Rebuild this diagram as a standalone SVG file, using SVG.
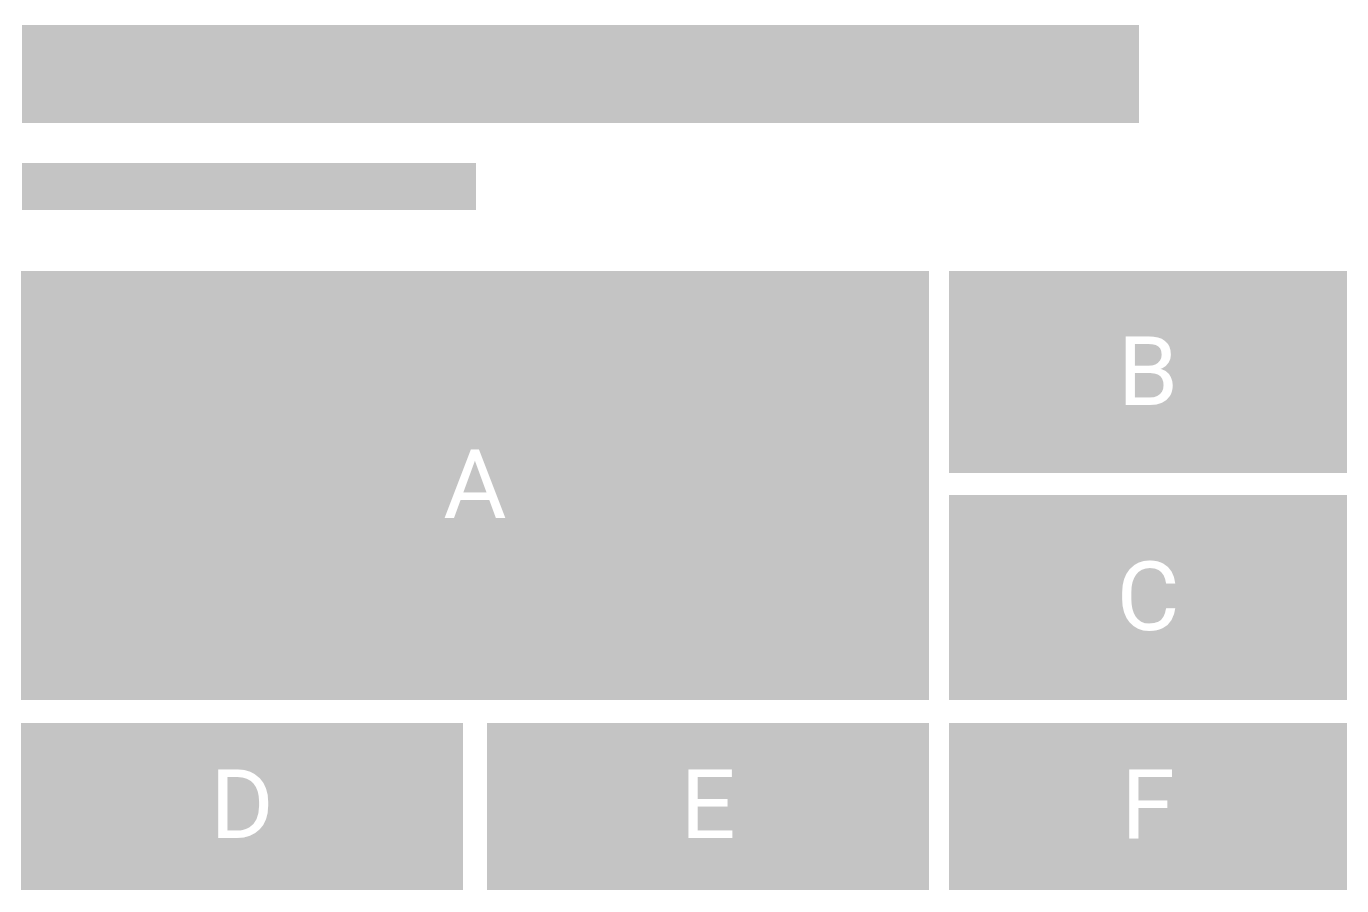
<svg xmlns="http://www.w3.org/2000/svg" width="1368" height="912" viewBox="0 0 1368 912">
<style>
.box{fill:#c4c4c4}
.lbl{fill:#ffffff;font-family:Roboto,"Liberation Sans",sans-serif;font-size:97px;font-weight:400;text-anchor:middle}
</style>
<rect width="1368" height="912" fill="#ffffff"/>
<g id="title"><rect class="box" x="22" y="25" width="1117" height="98"/></g>
<g id="subtitle"><rect class="box" x="22" y="163" width="454" height="47"/></g>
<g id="node-A"><rect class="box" x="21" y="271" width="908" height="429"/><text class="lbl" x="475" y="518">A</text></g>
<g id="node-B"><rect class="box" x="949" y="271" width="398" height="202"/><text class="lbl" x="1148" y="405">B</text></g>
<g id="node-C"><rect class="box" x="949" y="495" width="398" height="205"/><text class="lbl" x="1148" y="630">C</text></g>
<g id="node-D"><rect class="box" x="21" y="723" width="442" height="167"/><text class="lbl" x="242" y="838">D</text></g>
<g id="node-E"><rect class="box" x="487" y="723" width="442" height="167"/><text class="lbl" x="708" y="838">E</text></g>
<g id="node-F"><rect class="box" x="949" y="723" width="398" height="167"/><text class="lbl" x="1148" y="838">F</text></g>
<g id="connectors"></g>
</svg>
